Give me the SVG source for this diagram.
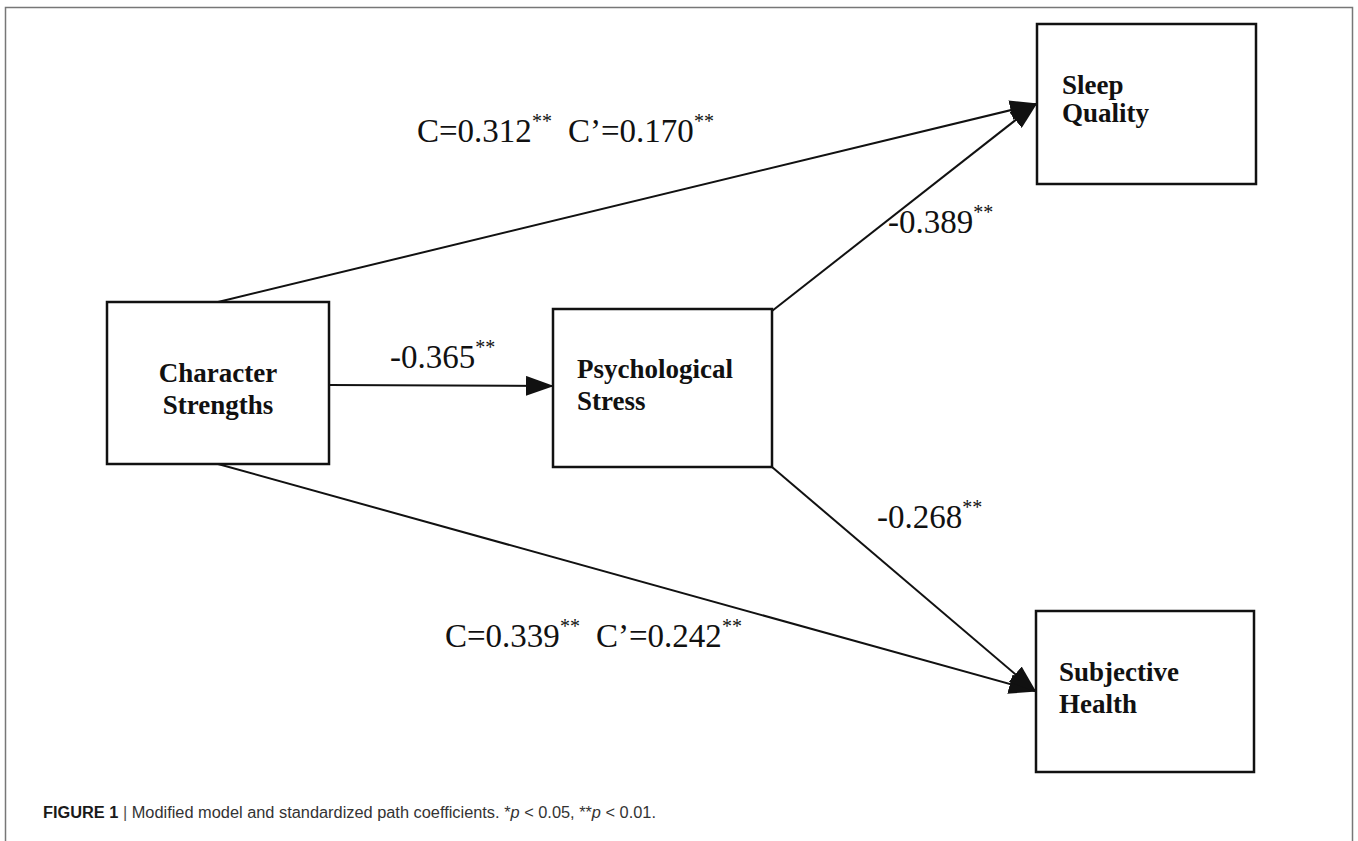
<svg xmlns="http://www.w3.org/2000/svg" width="1358" height="841" viewBox="0 0 1358 841">
<style>
.box{fill:#fff;stroke:#111;stroke-width:2.5}
.lbl{font-family:"Liberation Serif","Times New Roman",serif;font-weight:bold;font-size:27px;fill:#111}
.coef{font-family:"Liberation Serif","Times New Roman",serif;font-size:33px;fill:#111}
.sup{font-size:20px}
.edge{stroke:#111;stroke-width:2;fill:none;marker-end:url(#ah)}
.cap{font-family:"Liberation Sans",Arial,sans-serif;font-size:16px;fill:#333}
</style>
<defs>
<marker id="ah" markerWidth="14" markerHeight="10" refX="13" refY="5" orient="auto" markerUnits="strokeWidth">
<path d="M0,0 L14,5 L0,10 Z" fill="#111"/>
</marker>
</defs>
<rect x="0" y="0" width="1358" height="841" fill="#fff"/>
<path d="M5.5,850 V7.5 H1352.5 V850" fill="none" stroke="#777" stroke-width="1.5"/>
<g id="connectors">
<line class="edge" x1="218" y1="302" x2="1036" y2="104"/>
<line class="edge" x1="772" y1="311" x2="1036" y2="104"/>
<line class="edge" x1="329" y1="385" x2="552" y2="386"/>
<line class="edge" x1="218" y1="464" x2="1035" y2="691"/>
<line class="edge" x1="772" y1="467" x2="1035" y2="691"/>
</g>
<g id="node-sleep">
<rect class="box" x="1037" y="24" width="219" height="160"/>
<text class="lbl" x="1062" y="94">Sleep</text>
<text class="lbl" x="1062" y="122">Quality</text>
</g>
<g id="node-character">
<rect class="box" x="107" y="302" width="222" height="162"/>
<text class="lbl" x="218" y="382" text-anchor="middle">Character</text>
<text class="lbl" x="218" y="414" text-anchor="middle">Strengths</text>
</g>
<g id="node-stress">
<rect class="box" x="553" y="309" width="219" height="158"/>
<text class="lbl" x="577" y="378">Psychological</text>
<text class="lbl" x="577" y="410">Stress</text>
</g>
<g id="node-health">
<rect class="box" x="1036" y="611" width="218" height="161"/>
<text class="lbl" x="1059" y="681">Subjective</text>
<text class="lbl" x="1059" y="713">Health</text>
</g>
<g id="labels">
<text class="coef" x="417" y="142">C=0.312<tspan class="sup" dy="-14">**</tspan><tspan x="568" dy="14">C’=0.170</tspan><tspan class="sup" dy="-14">**</tspan></text>
<text class="coef" x="390" y="368">-0.365<tspan class="sup" dy="-14">**</tspan></text>
<text class="coef" x="888" y="233">-0.389<tspan class="sup" dy="-14">**</tspan></text>
<text class="coef" x="877" y="528">-0.268<tspan class="sup" dy="-14">**</tspan></text>
<text class="coef" x="445" y="647">C=0.339<tspan class="sup" dy="-14">**</tspan><tspan x="596" dy="14">C’=0.242</tspan><tspan class="sup" dy="-14">**</tspan></text>
</g>
<text class="cap" x="43" y="818" textLength="613" lengthAdjust="spacingAndGlyphs"><tspan font-weight="bold" fill="#1a1a1a">FIGURE 1</tspan> <tspan fill="#555">|</tspan> Modified model and standardized path coefficients. *<tspan font-style="italic">p</tspan> &lt; 0.05, **<tspan font-style="italic">p</tspan> &lt; 0.01.</text>
</svg>
